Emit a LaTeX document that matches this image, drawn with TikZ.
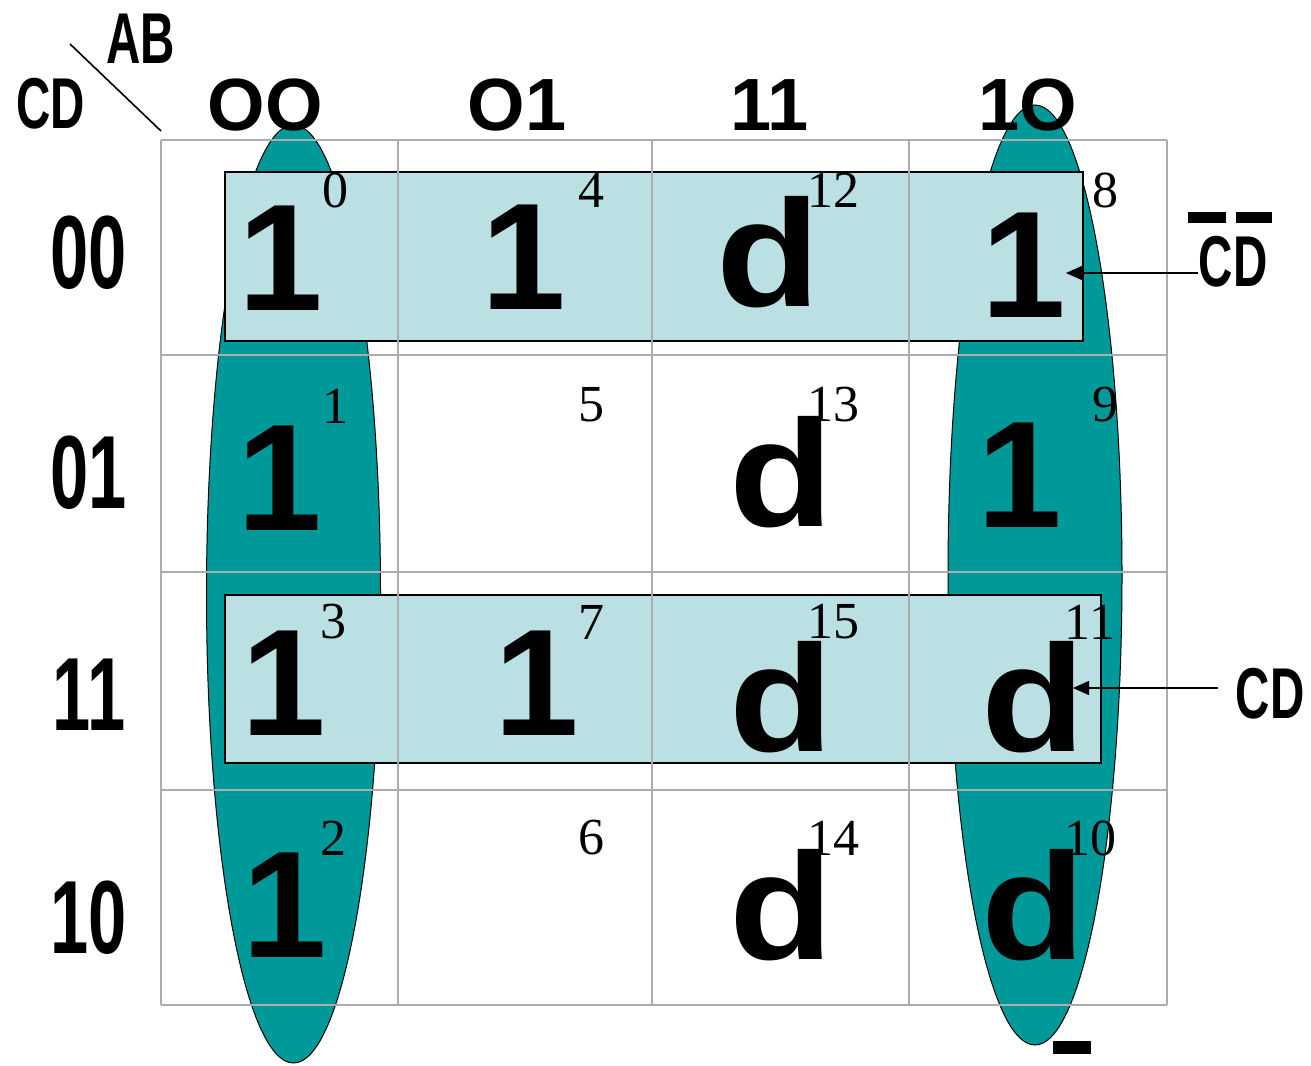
\documentclass[tikz,border=0pt]{standalone}
\usepackage{fontspec}
\usepackage{graphicx}
\setmainfont{Liberation Sans}
\newfontfamily\idxfont{Liberation Serif}
\usetikzlibrary{arrows.meta}
\definecolor{tealfill}{RGB}{0,153,153}
\definecolor{lightfill}{RGB}{187,224,227}
\definecolor{gridgray}{RGB}{172,172,172}
\newcommand\narrowtxt[1]{\scalebox{0.66}[1]{#1}}
\newcommand\wided{\scalebox{1.12}[1]{d}}
\begin{document}
\begin{tikzpicture}[x=0.5pt,y=-0.5pt,
  bigval/.style={font=\fontsize{76}{80}\selectfont\bfseries, inner sep=0pt},
  idx/.style={font=\idxfont\fontsize{26}{28}\selectfont, inner sep=0pt},
  colhdr/.style={font=\fontsize{37}{40}\selectfont\bfseries, inner sep=0pt},
  rowhdr/.style={font=\fontsize{52}{56}\selectfont\bfseries, inner sep=0pt},
  varlbl/.style={font=\fontsize{36}{40}\selectfont\bfseries, inner sep=0pt},
  loopell/.style={fill=tealfill, draw=black, line width=0.5pt},
  looprect/.style={fill=lightfill, draw=black, line width=0.7pt},
  gridline/.style={draw=gridgray, line width=1pt},
  arr/.style={draw=black, line width=0.7pt, -{Triangle[length=8pt,width=7pt]}},
  barline/.style={fill=black}
]
\useasboundingbox (0,0) rectangle (1311,1065);
\fill[white] (0,0) rectangle (1311,1065);

% groups: columns 00 and 10 (ellipses)
\draw[loopell] (293.5,594) ellipse [x radius=87, y radius=469];
\draw[loopell] (1035,575) ellipse [x radius=87, y radius=470];

% groups: rows 00 and 11 (rectangles)
\draw[looprect] (225,172) rectangle (1083,341);
\draw[looprect] (225,595) rectangle (1101,763);

% grid
\foreach \xx in {161,398,652,909,1167} \draw[gridline] (\xx,140) -- (\xx,1005);
\foreach \yy in {140,355,572,790,1005} \draw[gridline] (161,\yy) -- (1167,\yy);

% corner
\draw[line width=0.8pt] (70,44) -- (161,131);
\node[varlbl] (ab) at (141,39) {\narrowtxt{AB}};
\node[varlbl] (cdc) at (51,104) {\narrowtxt{CD}};

% column headers
\node[colhdr] (c0) at (265,105) {OO};
\node[colhdr] (c1) at (517,105) {O1};
\node[colhdr] (c2) at (770,105) {11};
\node[colhdr] (c3) at (1028,105) {1O};

% row headers
\node[rowhdr] (r0) at (89,253) {\narrowtxt{00}};
\node[rowhdr] (r1) at (89,473) {\narrowtxt{01}};
\node[rowhdr] (r2) at (89,695) {\narrowtxt{11}};
\node[rowhdr] (r3) at (89,918) {\narrowtxt{10}};

% cell values
\node[bigval] (v0) at (281,258) {1};
\node[bigval] (v4) at (524,257) {1};
\node[bigval] (v12) at (768,252) {\wided};
\node[bigval] (v8) at (1024,265) {1};
\node[bigval] (v1) at (280,478) {1};
\node[bigval] (v13) at (781,472) {\wided};
\node[bigval] (v9) at (1020,475) {1};
\node[bigval] (v3) at (284,683) {1};
\node[bigval] (v7) at (537,683) {1};
\node[bigval] (v15) at (781,697) {\wided};
\node[bigval] (v11) at (1033,697) {\wided};
\node[bigval] (v2) at (285,905) {1};
\node[bigval] (v14) at (781,905) {\wided};
\node[bigval] (v10) at (1033,905) {\wided};

% cell indices
\node[idx] (i0) at (335,190) {0};
\node[idx] (i4) at (591,190) {4};
\node[idx] (i12) at (833,190) {12};
\node[idx] (i8) at (1105,190) {8};
\node[idx] (i1) at (335,406) {1};
\node[idx] (i5) at (591,405) {5};
\node[idx] (i13) at (833,405) {13};
\node[idx] (i9) at (1105,405) {9};
\node[idx] (i3) at (333,622) {3};
\node[idx] (i7) at (591,622) {7};
\node[idx] (i15) at (833,622) {15};
\node[idx] (i11) at (1090,622) {11};
\node[idx] (i2) at (333,838) {2};
\node[idx] (i6) at (591,838) {6};
\node[idx] (i14) at (833,838) {14};
\node[idx] (i10) at (1090,838) {10};

% right-hand labels
\node[varlbl] (cdbar) at (1233,262) {\narrowtxt{CD}};
\fill[barline] (1188,212) rectangle (1226,223);
\fill[barline] (1236,212) rectangle (1272,223);
\node[varlbl] (cdlbl) at (1270,694) {\narrowtxt{CD}};

\coordinate (tipA) at (1066,273);
\coordinate (tipB) at (1073,688);
\draw[arr] (cdbar.west |- tipA) -- (tipA);
\draw[arr] (1218,688) coordinate (startB) -- (tipB);

% bottom bar
\fill[barline] (1053,1041) rectangle (1091,1054);
\end{tikzpicture}
\end{document}
